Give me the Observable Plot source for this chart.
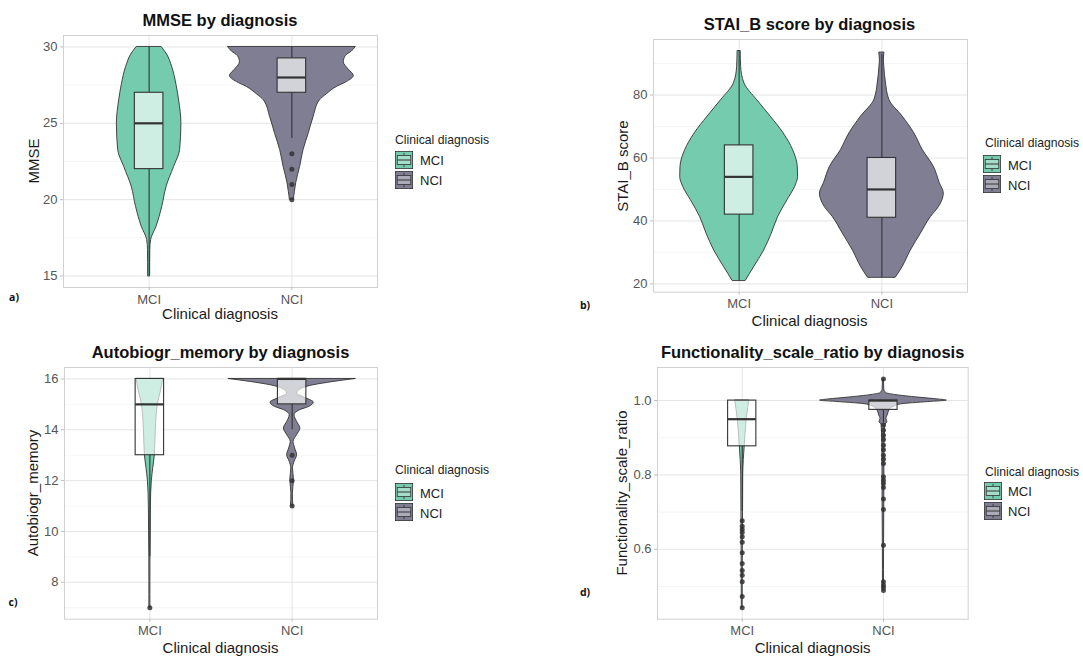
<!DOCTYPE html>
<html>
<head>
<meta charset="utf-8">
<script src="https://cdn.jsdelivr.net/npm/d3@7"></script>
<script src="https://cdn.jsdelivr.net/npm/@observablehq/plot@0.6"></script>
<style>
  body { margin: 0; background: #fff; }
  #page { position: relative; width: 1083px; height: 657px; overflow: hidden; background: #fff;
          font-family: "Liberation Sans", Arial, sans-serif; }
  .t { position: absolute; white-space: nowrap; line-height: 1; }
  .title { font-weight: bold; font-size: 16.5px; color: #111; transform: translate(-50%, -50%); }
  .xlab { font-size: 15px; color: #1a1a1a; transform: translate(-50%, -50%); }
  .ylab { font-size: 15px; color: #1a1a1a; transform: translate(-50%, -50%) rotate(-90deg); }
  .tag { font-family: "Open Sans", sans-serif; font-weight: bold; font-size: 10.5px; color: #111; transform: translate(-50%, -50%); }
  .lgtitle { font-size: 12.2px; color: #222; transform: translateY(-50%); }
  .lglab { font-size: 13px; color: #222; transform: translateY(-50%); }
  .key { position: absolute; }
</style>
</head>
<body>
<div id="page"></div>
<script>
// Groups and their fills
const categories = ["MCI", "NCI"];
const violinFill = ["#74CBAE", "#7F7E93"];

// Violin outlines: [value, half-width in category units]
const mmseViolinMCI = [[15,0.007],[16.7,0.008],[17.36,0.014],[18.23,0.052],[19.53,0.092],[20.84,0.122],[22.15,0.175],[23.25,0.217],[25,0.226],[26.5,0.21],[27.5,0.192],[28.7,0.161],[29.5,0.126],[30,0.087]];
const mmseViolinNCI = [[20,0.014],[20.5,0.021],[21.06,0.03],[22.15,0.058],[23.25,0.082],[24.3,0.117],[25.4,0.152],[26.5,0.196],[26.9,0.245],[27.38,0.315],[27.7,0.385],[28.1,0.434],[28.5,0.40],[29.0,0.364],[29.4,0.378],[29.7,0.42],[30,0.448]];

const staiViolinMCI = [[21,0.047],[25.3,0.105],[30.6,0.175],[35.9,0.228],[41.2,0.273],[46.55,0.338],[50.8,0.392],[54,0.413],[57.2,0.411],[62.5,0.378],[67.8,0.312],[73.1,0.222],[78.4,0.126],[83.7,0.037],[89,0.014],[94,0.011]];
const staiViolinNCI = [[22,0.098],[25.3,0.145],[30.6,0.203],[35.9,0.273],[41.2,0.343],[44.4,0.40],[48.7,0.434],[52,0.406],[57.2,0.364],[62.5,0.287],[67.8,0.228],[73.1,0.147],[78.4,0.053],[84,0.028],[89,0.017],[91,0.014],[93.5,0.018]];

const autoViolinMCI = [[7,0.0035],[8,0.0035],[9,0.004],[10,0.0056],[11,0.007],[12,0.014],[12.5,0.024],[13,0.035],[14,0.042],[15,0.056],[15.5,0.077],[16,0.094]];
const autoViolinNCI = [[11,0.008],[11.5,0.005],[12.02,0.013],[12.48,0.006],[12.74,0.017],[13,0.035],[13.27,0.021],[13.53,0.01],[13.79,0.035],[14.05,0.058],[14.31,0.035],[14.57,0.017],[14.77,0.056],[14.9,0.12],[15.07,0.152],[15.24,0.098],[15.43,0.035],[15.62,0.07],[15.75,0.15],[15.88,0.29],[16,0.448]];

const funcViolinMCI = [[0.443,0.003],[0.5,0.0035],[0.6,0.0042],[0.7,0.0057],[0.8,0.007],[0.84,0.011],[0.88,0.018],[0.92,0.025],[0.95,0.032],[0.98,0.042],[1.0,0.05]];
const funcViolinNCI = [[0.489,0.0035],[0.6,0.0042],[0.7,0.0057],[0.85,0.007],[0.92,0.011],[0.935,0.014],[0.942,0.028],[0.95,0.021],[0.962,0.032],[0.974,0.042],[0.983,0.071],[0.99,0.127],[0.996,0.318],[1.0,0.449],[1.003,0.389],[1.008,0.248],[1.015,0.085],[1.02,0.021],[1.03,0.0057],[1.058,0.0035]];

// Box summaries: [q1, median, q3, lower whisker, upper whisker]
const mmseBoxMCI = [22, 25, 27, 15, 30];
const mmseBoxNCI = [27, 28, 29.25, 24, 30];
const staiBoxMCI = [42, 54, 64, 21, 94];
const staiBoxNCI = [41, 50, 60, 22, 93];
const autoBoxMCI = [13, 15, 16, 9, 16];
const autoBoxNCI = [15, 16, 16, 14, 16];
const funcBoxMCI = [0.877, 0.95, 1.0, 0.70, 1.0];
const funcBoxNCI = [0.975, 1.0, 1.0, 0.94, 1.0];

// Outlying observations
const mmseOutMCI = [];
const mmseOutNCI = [23, 22, 21, 20];
const staiOutMCI = [];
const staiOutNCI = [];
const autoOutMCI = [7];
const autoOutNCI = [13, 12, 11];
const funcOutMCI = [0.677, 0.662, 0.653, 0.645, 0.634, 0.619, 0.591, 0.562, 0.543, 0.53, 0.513, 0.473, 0.443];
const funcOutNCI = [1.058, 0.934, 0.92, 0.907, 0.895, 0.88, 0.868, 0.853, 0.842, 0.831, 0.795, 0.786, 0.777, 0.766, 0.735, 0.707, 0.611, 0.513, 0.504, 0.497, 0.489];

// Axis ticks
const mmseTicks = [15, 20, 25, 30], mmseMinor = [17.5, 22.5, 27.5];
const staiTicks = [20, 40, 60, 80], staiMinor = [30, 50, 70, 90];
const autoTicks = [8, 10, 12, 14, 16], autoMinor = [7, 9, 11, 13, 15];
const funcTicks = [0.6, 0.8, 1.0], funcMinor = [0.5, 0.7, 0.9];

const panels = [
  { tag: "a)", title: "MMSE by diagnosis", ylabel: "MMSE",
    frame: { left: 63, top: 35, right: 377, bottom: 287 }, yDomain: [14.25, 30.75],
    ticks: mmseTicks, minor: mmseMinor, fmt: d3.format("d"),
    violins: [mmseViolinMCI, mmseViolinNCI], boxes: [mmseBoxMCI, mmseBoxNCI], outliers: [mmseOutMCI, mmseOutNCI],
    titleY: 20, xlabY: 313, ylabX: 32.7, tagPos: [14, 297],
    legend: { x: 395, titleY: 140, keyX: 395, keyTops: [150.7, 170.7], labX: 420 } },
  { tag: "b)", title: "STAI_B score by diagnosis", ylabel: "STAI_B score",
    frame: { left: 652.5, top: 39.3, right: 966.5, bottom: 292 }, yDomain: [17.35, 97.65],
    ticks: staiTicks, minor: staiMinor, fmt: d3.format("d"),
    violins: [staiViolinMCI, staiViolinNCI], boxes: [staiBoxMCI, staiBoxNCI], outliers: [staiOutMCI, staiOutNCI],
    titleY: 24, xlabY: 320, ylabX: 621.7, tagPos: [585, 305],
    legend: { x: 985, titleY: 143.3, keyX: 983.3, keyTops: [155, 175], labX: 1008 } },
  { tag: "c)", title: "Autobiogr_memory by diagnosis", ylabel: "Autobiogr_memory",
    frame: { left: 64, top: 367.3, right: 377, bottom: 619 }, yDomain: [6.55, 16.45],
    ticks: autoTicks, minor: autoMinor, fmt: d3.format("d"),
    violins: [autoViolinMCI, autoViolinNCI], boxes: [autoBoxMCI, autoBoxNCI], outliers: [autoOutMCI, autoOutNCI],
    titleY: 351.7, xlabY: 646.7, ylabX: 32.3, tagPos: [13, 602],
    legend: { x: 395, titleY: 470, keyX: 395, keyTops: [483.3, 503.3], labX: 420 } },
  { tag: "d)", title: "Functionality_scale_ratio by diagnosis", ylabel: "Functionality_scale_ratio",
    frame: { left: 657.3, top: 367.3, right: 968, bottom: 619 }, yDomain: [0.412, 1.089],
    ticks: funcTicks, minor: funcMinor, fmt: d3.format(".1f"),
    violins: [funcViolinMCI, funcViolinNCI], boxes: [funcBoxMCI, funcBoxNCI], outliers: [funcOutMCI, funcOutNCI],
    titleY: 351.7, xlabY: 646.7, ylabX: 620.7, tagPos: [585, 592],
    legend: { x: 985, titleY: 471.7, keyX: 984.3, keyTops: [481.7, 501.7], labX: 1008 } }
];

const page = document.getElementById("page");
const BOX_HALF = 0.1;
const INK = "#333333";

function addText(cls, text, x, y) {
  const el = document.createElement("div");
  el.className = "t " + cls;
  el.textContent = text;
  el.style.left = x + "px";
  el.style.top = y + "px";
  page.appendChild(el);
  return el;
}

function keySvg(fill) {
  const s = 18;
  return `<svg width="${s}" height="${s}" viewBox="0 0 ${s} ${s}">
    <rect x="0.4" y="0.4" width="${s - 0.8}" height="${s - 0.8}" fill="${fill}" stroke="${INK}" stroke-width="0.8"/>
    <line x1="9" x2="9" y1="1.8" y2="4.5" stroke="${INK}" stroke-width="0.8"/>
    <line x1="9" x2="9" y1="13.5" y2="16.2" stroke="${INK}" stroke-width="0.8"/>
    <rect x="2.25" y="4.5" width="13.5" height="9" fill="white" fill-opacity="0.35" stroke="${INK}" stroke-width="0.8"/>
    <line x1="2.25" x2="15.75" y1="9" y2="9" stroke="${INK}" stroke-width="1"/>
  </svg>`;
}

function drawPanel(p) {
  const ml = 32, mr = 1, mt = 1, mb = 24;
  const w = p.frame.right - p.frame.left + ml + mr;
  const h = p.frame.bottom - p.frame.top + mt + mb;

  const violinRows = p.violins.flatMap((prof, i) =>
    prof.map(([v, hw]) => ({ group: categories[i], pos: i + 1, v, hw }))
        .sort((a, b) => a.v - b.v));
  const boxRows = p.boxes.map((b, i) => ({
    group: categories[i], pos: i + 1, q1: b[0], med: b[1], q3: b[2], lo: b[3], hi: b[4]
  }));
  const outRows = p.outliers.flatMap((arr, i) => arr.map(v => ({ group: categories[i], pos: i + 1, v })));

  const chart = Plot.plot({
    width: w, height: h,
    marginLeft: ml, marginRight: mr, marginTop: mt, marginBottom: mb,
    style: { fontFamily: "Liberation Sans, Arial, sans-serif", fontSize: "13px", background: "transparent", overflow: "visible" },
    x: { type: "linear", domain: [0.4, 2.6] },
    y: { domain: p.yDomain },
    color: { domain: categories, range: violinFill },
    marks: [
      Plot.ruleY(p.minor, { stroke: "#F2F2F2", strokeWidth: 0.8 }),
      Plot.ruleY(p.ticks, { stroke: "#E4E4E4", strokeWidth: 1 }),
      Plot.ruleX([1, 2], { stroke: "#E4E4E4", strokeWidth: 1 }),
      Plot.areaX(violinRows, {
        y: "v", x1: d => d.pos - d.hw, x2: d => d.pos + d.hw, z: "group",
        fill: "group", stroke: INK, strokeWidth: 0.9, curve: "monotone-y"
      }),
      Plot.ruleX(boxRows, { x: "pos", y1: "q3", y2: "hi", stroke: INK, strokeWidth: 1.1 }),
      Plot.ruleX(boxRows, { x: "pos", y1: "lo", y2: "q1", stroke: INK, strokeWidth: 1.1 }),
      Plot.rect(boxRows, {
        x1: d => d.pos - BOX_HALF, x2: d => d.pos + BOX_HALF, y1: "q1", y2: "q3",
        fill: "white", fillOpacity: 0.65, stroke: INK, strokeWidth: 1.1
      }),
      Plot.ruleY(boxRows, { y: "med", x1: d => d.pos - BOX_HALF, x2: d => d.pos + BOX_HALF, stroke: INK, strokeWidth: 2.2 }),
      Plot.dot(outRows, { x: "pos", y: "v", r: 2.5, fill: INK, fillOpacity: 0.85, stroke: null }),
      Plot.frame({ stroke: "#D0D0D0" }),
      Plot.axisY({ ticks: p.ticks, tickFormat: p.fmt, tickSize: 3, tickPadding: 3, fontSize: 13, stroke: "#BDBDBD", fill: "#555", label: null }),
      Plot.axisX({ ticks: [1, 2], tickFormat: i => categories[i - 1], tickSize: 3, tickPadding: 4, fontSize: 13, stroke: "#BDBDBD", fill: "#555", label: null })
    ]
  });
  chart.style.position = "absolute";
  chart.style.left = (p.frame.left - ml) + "px";
  chart.style.top = (p.frame.top - mt) + "px";
  page.appendChild(chart);

  const cx = (p.frame.left + p.frame.right) / 2;
  const cy = (p.frame.top + p.frame.bottom) / 2;
  addText("title", p.title, cx, p.titleY);
  addText("xlab", "Clinical diagnosis", cx, p.xlabY);
  addText("ylab", p.ylabel, p.ylabX, cy);
  addText("tag", p.tag, p.tagPos[0], p.tagPos[1]);

  // Legend
  const L = p.legend;
  addText("lgtitle", "Clinical diagnosis", L.x, L.titleY);
  categories.forEach((c, i) => {
    const k = document.createElement("div");
    k.className = "key";
    k.style.left = L.keyX + "px";
    k.style.top = L.keyTops[i] + "px";
    k.innerHTML = keySvg(violinFill[i]);
    page.appendChild(k);
    addText("lglab", c, L.labX, L.keyTops[i] + 9.5);
  });
}

panels.forEach(drawPanel);
</script>
</body>
</html>
